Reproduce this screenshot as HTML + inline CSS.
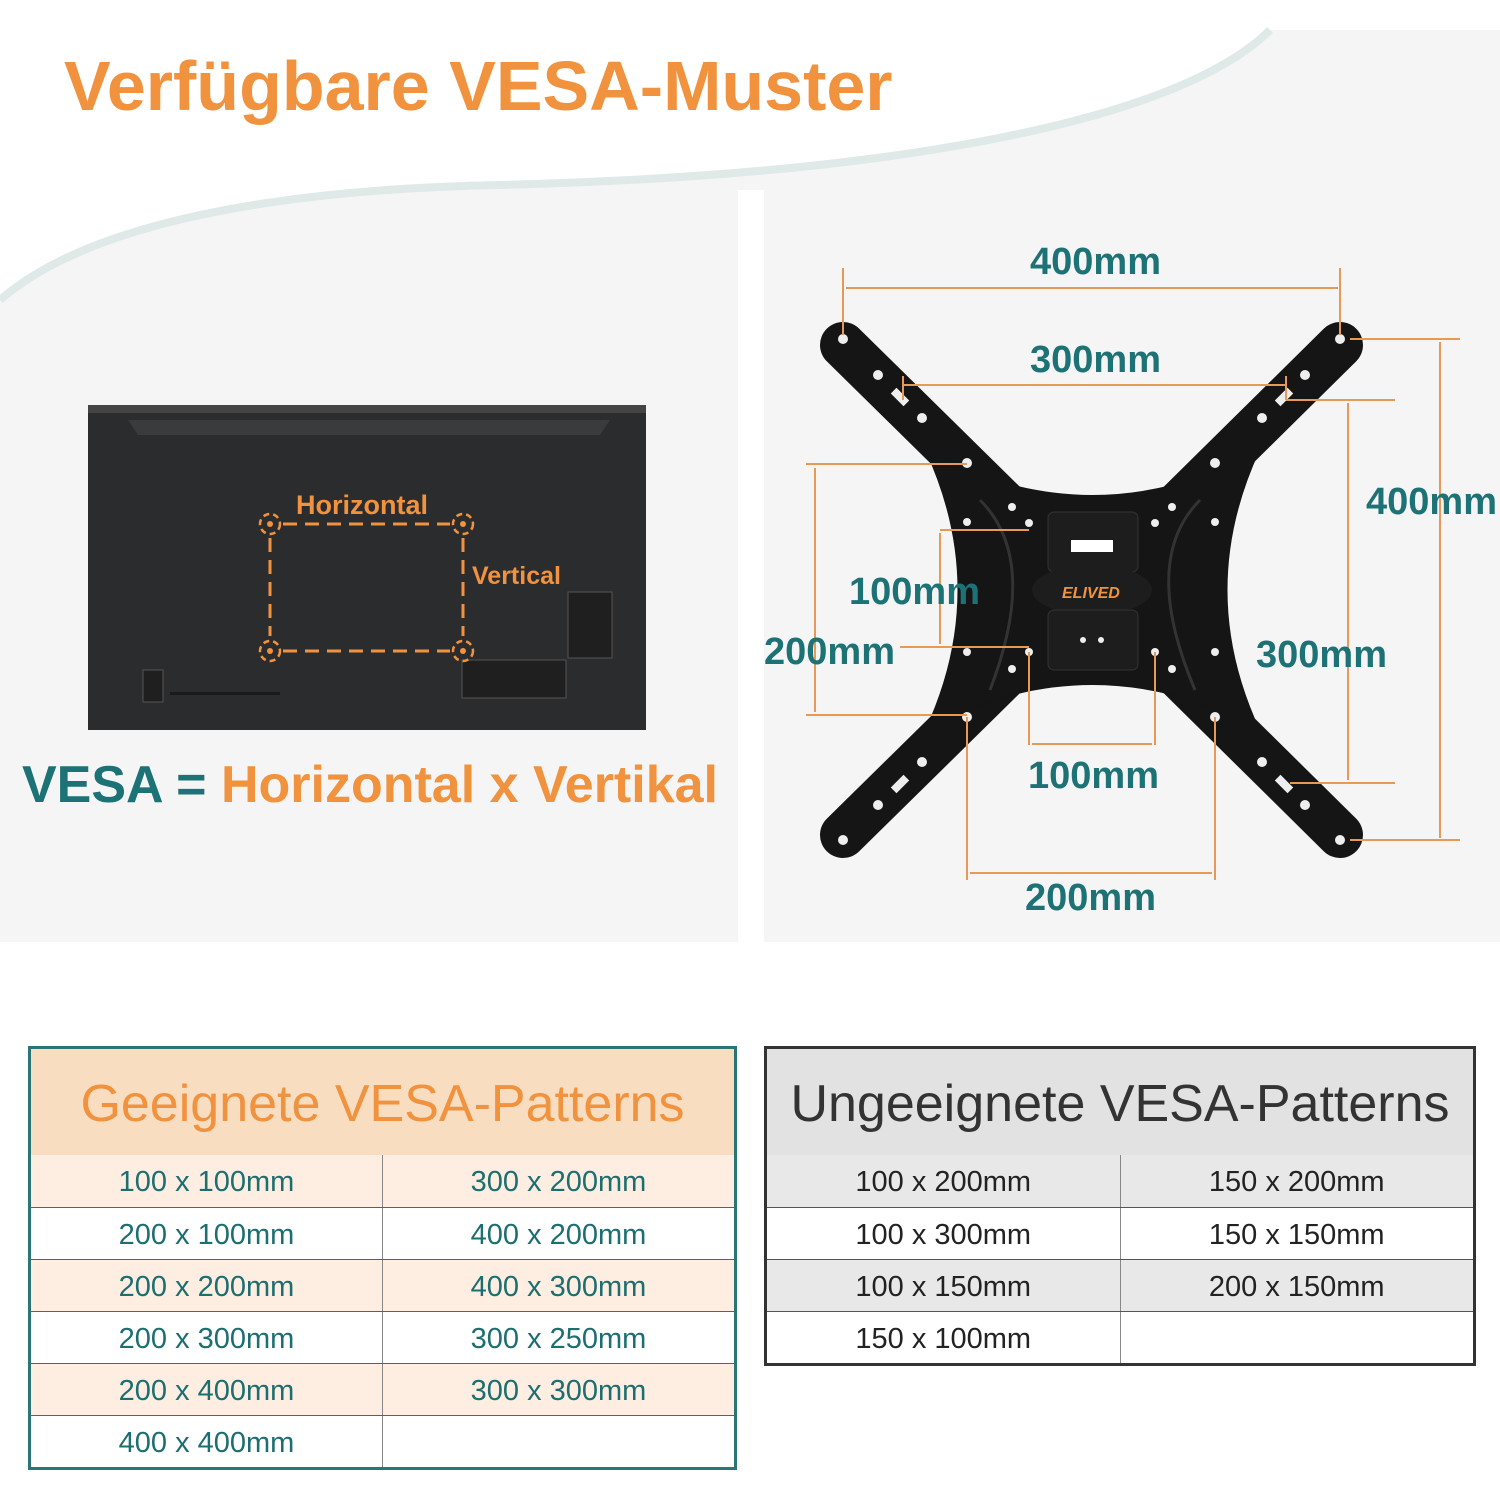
<!DOCTYPE html>
<html><head><meta charset="utf-8"><style>
body{margin:0;width:1500px;height:1500px;background:#fff;position:relative;font-family:"Liberation Sans",sans-serif;overflow:hidden}
.a{position:absolute}
.t{position:absolute;font-weight:bold}
table{border-collapse:collapse;position:absolute}
td{text-align:center;font-size:29px;height:52px;padding:0;padding-top:4px;box-sizing:border-box}
</style></head><body>
<svg class="a" style="left:0;top:0" width="1500" height="950">
<rect x="0" y="0" width="1500" height="942" fill="#f5f5f5"/>
<path d="M0 0 H1500 V30 H1270 C1180 120 900 175 500 185 C250 190 80 230 0 300 Z" fill="#fff"/>
<path d="M0 300 C80 230 250 190 500 185 C900 175 1180 120 1270 30" fill="none" stroke="#dfe9e8" stroke-width="8"/>
<rect x="738" y="190" width="26" height="760" fill="#fff"/>
<rect x="88" y="405" width="558" height="325" fill="#2b2c2d"/>
<rect x="88" y="405" width="558" height="8" fill="#444"/>
<path d="M128 420 H610 L600 435 H138 Z" fill="#3a3b3c"/>
<rect x="568" y="592" width="44" height="66" fill="#1f1f1f" stroke="#555"/>
<rect x="462" y="660" width="104" height="38" fill="#1f1f1f" stroke="#555"/>
<rect x="143" y="670" width="20" height="32" fill="#1f1f1f" stroke="#555"/>
<rect x="170" y="692" width="110" height="3" fill="#1a1a1a"/>
<g stroke="#f0923e" stroke-width="3" fill="none" stroke-dasharray="14 8">
<path d="M283 524 H450 M270 538 V636 M463 538 V636 M283 651 H450"/></g>
<g stroke="#f0923e" stroke-width="2.5" fill="none">
<circle cx="270" cy="524" r="10" stroke-dasharray="6 4"/><circle cx="463" cy="524" r="10" stroke-dasharray="6 4"/>
<circle cx="270" cy="651" r="10" stroke-dasharray="6 4"/><circle cx="463" cy="651" r="10" stroke-dasharray="6 4"/></g>
<g fill="#f0923e"><circle cx="270" cy="524" r="3"/><circle cx="463" cy="524" r="3"/><circle cx="270" cy="651" r="3"/><circle cx="463" cy="651" r="3"/></g>
<text x="296" y="514" font-family="Liberation Sans" font-weight="bold" font-size="27" fill="#f0923e">Horizontal</text>
<text x="472" y="584" font-family="Liberation Sans" font-weight="bold" font-size="25" fill="#f0923e">Vertical</text>
<g stroke="#151515" stroke-width="46" stroke-linecap="round">
<line x1="843" y1="345" x2="1092" y2="590"/><line x1="1340" y1="345" x2="1092" y2="590"/>
<line x1="843" y1="835" x2="1092" y2="590"/><line x1="1340" y1="835" x2="1092" y2="590"/></g>
<path d="M925 450 Q1092 540 1260 450 Q1195 590 1260 730 Q1092 640 925 730 Q990 590 925 450Z" fill="#151515"/>
<path d="M980 500 Q1040 560 990 690 M1200 500 Q1140 560 1195 690" stroke="#333" stroke-width="3" fill="none"/>
<rect x="1048" y="512" width="90" height="60" rx="6" fill="#1d1d1d" stroke="#333"/>
<rect x="1071" y="540" width="42" height="12" fill="#fff"/>
<ellipse cx="1092" cy="590" rx="60" ry="25" fill="#1d1d1d"/>
<rect x="1048" y="610" width="90" height="60" rx="6" fill="#1d1d1d" stroke="#333"/>
<text x="1062" y="598" font-family="Liberation Sans" font-weight="bold" font-style="italic" font-size="16" fill="#f0923e">ELIVED</text>
<g fill="#eee">
<circle cx="843" cy="339" r="5"/><circle cx="1340" cy="339" r="5"/><circle cx="843" cy="840" r="5"/><circle cx="1340" cy="840" r="5"/>
<circle cx="967" cy="463" r="5"/><circle cx="1215" cy="463" r="5"/><circle cx="967" cy="717" r="5"/><circle cx="1215" cy="717" r="5"/>
<circle cx="967" cy="522" r="4"/><circle cx="1215" cy="522" r="4"/><circle cx="967" cy="652" r="4"/><circle cx="1215" cy="652" r="4"/>
<circle cx="1029" cy="523" r="4"/><circle cx="1155" cy="523" r="4"/><circle cx="1029" cy="652" r="4"/><circle cx="1155" cy="652" r="4"/>
<circle cx="1012" cy="507" r="4"/><circle cx="1172" cy="507" r="4"/><circle cx="1012" cy="669" r="4"/><circle cx="1172" cy="669" r="4"/>
<circle cx="1083" cy="640" r="3"/><circle cx="1101" cy="640" r="3"/>
<circle cx="878" cy="375" r="5"/><circle cx="922" cy="418" r="5"/><circle cx="1305" cy="375" r="5"/><circle cx="1262" cy="418" r="5"/>
<circle cx="878" cy="805" r="5"/><circle cx="922" cy="762" r="5"/><circle cx="1305" cy="805" r="5"/><circle cx="1262" cy="762" r="5"/>
<rect x="896" y="388" width="8" height="18" transform="rotate(-45 900 397)"/><rect x="1280" y="388" width="8" height="18" transform="rotate(45 1284 397)"/>
<rect x="896" y="775" width="8" height="18" transform="rotate(45 900 784)"/><rect x="1280" y="775" width="8" height="18" transform="rotate(-45 1284 784)"/>
</g>
<g stroke="#e69a55" stroke-width="2" fill="none">
<path d="M843 268 V335 M1340 268 V335 M846 288 H1338"/>
<path d="M903 376 V400 M1286 376 V400 M903 385 H1286 M1286 400 H1395 M1350 339 H1460"/>
<path d="M1440 342 V838 M1350 840 H1460 M1348 403 V780 M1290 783 H1395"/>
<path d="M806 464 H967 M806 715 H967 M815 468 V712 M900 647 H1029 M940 530 H1029 M940 533 V644"/>
<path d="M1029 652 V745 M1155 652 V745 M1032 744 H1152"/>
<path d="M967 717 V880 M1215 717 V880 M970 873 H1212"/></g>
<g font-family="Liberation Sans" font-weight="bold" fill="#1c7274" font-size="38">
<text x="1030" y="274">400mm</text><text x="1030" y="372">300mm</text>
<text x="1366" y="514">400mm</text><text x="1256" y="667">300mm</text>
<text x="849" y="604">100mm</text><text x="764" y="664">200mm</text>
<text x="1028" y="788">100mm</text><text x="1025" y="910">200mm</text></g>
</svg>
<div class="t" style="left:64px;top:46px;font-size:70px;color:#f0923e">Verfügbare VESA-Muster</div>
<div class="t" style="left:22px;top:755px;font-size:52px;color:#1c7274">VESA = <span style="color:#f0923e">Horizontal x Vertikal</span></div>

<div class="a" style="left:28px;top:1046px;width:703px;height:418px;border:3px solid #2c7577"></div>
<div class="a" style="left:31px;top:1049px;width:703px;height:106px;background:#f9ddc0;color:#f0923e;font-size:52px;text-align:center;line-height:110px">Geeignete VESA-Patterns</div>
<table style="left:31px;top:1155px;width:703px;color:#1c6e70">
<tr style="background:#fdeee1"><td style="border-right:1px solid #888;border-bottom:1px solid #2c7577">100 x 100mm</td><td style="border-bottom:1px solid #2c7577">300 x 200mm</td></tr>
<tr><td style="border-right:1px solid #888;border-bottom:1px solid #2c7577">200 x 100mm</td><td style="border-bottom:1px solid #2c7577">400 x 200mm</td></tr>
<tr style="background:#fdeee1"><td style="border-right:1px solid #888;border-bottom:1px solid #2c7577">200 x 200mm</td><td style="border-bottom:1px solid #2c7577">400 x 300mm</td></tr>
<tr><td style="border-right:1px solid #888;border-bottom:1px solid #2c7577">200 x 300mm</td><td style="border-bottom:1px solid #2c7577">300 x 250mm</td></tr>
<tr style="background:#fdeee1"><td style="border-right:1px solid #888;border-bottom:1px solid #2c7577">200 x 400mm</td><td style="border-bottom:1px solid #2c7577">300 x 300mm</td></tr>
<tr><td style="border-right:1px solid #888">400 x 400mm</td><td></td></tr>
</table>

<div class="a" style="left:764px;top:1046px;width:706px;height:314px;border:3px solid #333"></div>
<div class="a" style="left:767px;top:1049px;width:706px;height:106px;background:#e2e2e2;color:#333;font-size:52px;text-align:center;line-height:110px">Ungeeignete VESA-Patterns</div>
<table style="left:767px;top:1155px;width:706px;color:#222">
<tr style="background:#e8e8e8"><td style="border-right:1px solid #888;border-bottom:1px solid #555">100 x 200mm</td><td style="border-bottom:1px solid #555">150 x 200mm</td></tr>
<tr><td style="border-right:1px solid #888;border-bottom:1px solid #555">100 x 300mm</td><td style="border-bottom:1px solid #555">150 x 150mm</td></tr>
<tr style="background:#e8e8e8"><td style="border-right:1px solid #888;border-bottom:1px solid #555">100 x 150mm</td><td style="border-bottom:1px solid #555">200 x 150mm</td></tr>
<tr><td style="border-right:1px solid #888">150 x 100mm</td><td></td></tr>
</table>
</body></html>
